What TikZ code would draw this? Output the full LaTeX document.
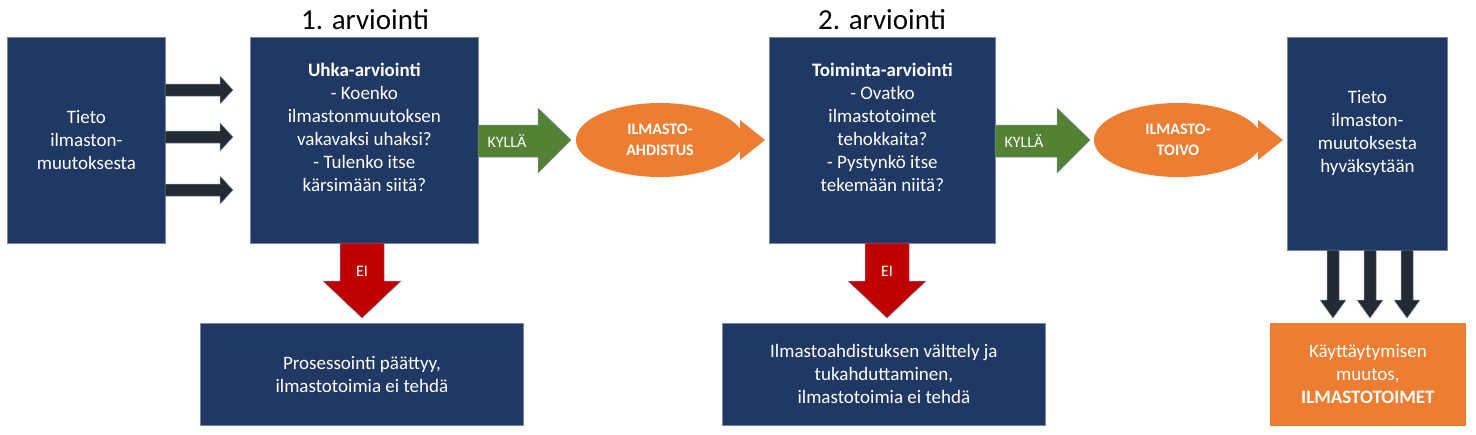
\documentclass[tikz,border=0pt]{standalone}
\usepackage{fontspec}
\setmainfont{Carlito}
\usetikzlibrary{shapes.geometric}
\definecolor{navy}{HTML}{203864}
\definecolor{dark}{HTML}{222A35}
\definecolor{org}{HTML}{ED7D31}
\definecolor{grn}{HTML}{548235}
\definecolor{rd}{HTML}{C00000}
\begin{document}
\begin{tikzpicture}[x=1pt,y=-1pt,
 box/.style={fill=navy,draw=navy!60!white,line width=0.8pt,text=white,align=center,font=\fontsize{19}{23}\selectfont},
 ttl/.style={font=\fontsize{29}{33}\selectfont},
 lbl/.style={text=white,font=\fontsize{16}{19}\selectfont,align=center}]
\useasboundingbox (0,0) rectangle (1476,434);
% boxes
\node[box,minimum width=158,minimum height=206,anchor=north west] (b1) at (7,37) {Tieto\\ilmaston-\\muutoksesta};
\node[box,minimum width=228,minimum height=206,anchor=north west] (b2) at (250,37) {};
\node[box,align=center,anchor=north] at (b2.north) [yshift=-22,draw=none,fill=none] {\textbf{Uhka-arviointi}\\- Koenko\\ilmastonmuutoksen\\vakavaksi uhaksi?\\- Tulenko itse\\kärsimään siitä?};
\node[box,minimum width=226,minimum height=206,anchor=north west] (b3) at (769,37) {};
\node[box,align=center,anchor=north] at (b3.north) [yshift=-22,draw=none,fill=none] {\textbf{Toiminta-arviointi}\\- Ovatko\\ilmastotoimet\\tehokkaita?\\- Pystynkö itse\\tekemään niitä?};
\node[box,minimum width=160,minimum height=213,anchor=north west] (b4) at (1287,37) {};
\node[box,anchor=north,draw=none,fill=none] at ([yshift=-50]b4.north) {Tieto\\ilmaston-\\muutoksesta\\hyväksytään};
\node[box,minimum width=323,minimum height=102,anchor=north west] (b5) at (200,323) {Prosessointi päättyy,\\ilmastotoimia ei tehdä};
\node[box,minimum width=323,minimum height=102,anchor=north west] (b6) at (722,323) {Ilmastoahdistuksen välttely ja\\tukahduttaminen,\\ilmastotoimia ei tehdä};
\node[box,fill=org,draw=org,minimum width=195,minimum height=102,anchor=north west] (b7) at (1270,323) {Käyttäytymisen\\muutos,\\\textbf{ILMASTOTOIMET}};
% titles
\node[ttl] (t1) at (365,20) {1. arviointi};
\node[ttl] (t2) at (882,20) {2. arviointi};
% left arrows
\foreach \yy in {90,137,190}{
 \fill[dark,draw=navy!60!white,line width=0.5pt] (165,\yy-6) -- (220,\yy-6) -- (220,\yy-14) -- (233,\yy) -- (220,\yy+14) -- (220,\yy+6) -- (165,\yy+6) -- cycle;}
% down arrows
\foreach \xx in {1333,1370,1407}{
 \fill[dark,draw=navy!60!white,line width=0.5pt] (\xx-6,250) -- (\xx-6,300) -- (\xx-13,300) -- (\xx,318) -- (\xx+13,300) -- (\xx+6,300) -- (\xx+6,250) -- cycle;}
% green arrows
\foreach \xa/\xb/\xc in {478/538/571,995/1057/1090}{
 \fill[grn,draw=navy!60!white,line width=0.5pt] (\xa,125) -- (\xb,125) -- (\xb,108) -- (\xc,140) -- (\xb,173) -- (\xb,157) -- (\xa,157) -- cycle;}
\node[lbl] (k1) at (507,141) {KYLLÄ};
\node[lbl] (k2) at (1024,141) {KYLLÄ};
% red arrows
\foreach \xx in {362,887}{
 \fill[rd,draw=navy!60!white,line width=0.5pt] (\xx-22,243) -- (\xx-22,281) -- (\xx-39,281) -- (\xx,318) -- (\xx+39,281) -- (\xx+22,281) -- (\xx+22,243) -- cycle;}
\node[lbl] (e1) at (362,271) {EI};
\node[lbl] (e2) at (887,271) {EI};
% ellipses
\foreach \cx in {660,1178}{
 \fill[org] (\cx+80,120) -- (\cx+105,140) -- (\cx+80,160) -- cycle;
 \fill[org] (\cx,140) ellipse (84 and 37);}
\node[lbl,font=\bfseries\fontsize{16}{21}\selectfont] (o1) at (660,140) {ILMASTO-\\AHDISTUS};
\node[lbl,font=\bfseries\fontsize{16}{21}\selectfont] (o2) at (1178,140) {ILMASTO-\\TOIVO};
\end{tikzpicture}
\end{document}
